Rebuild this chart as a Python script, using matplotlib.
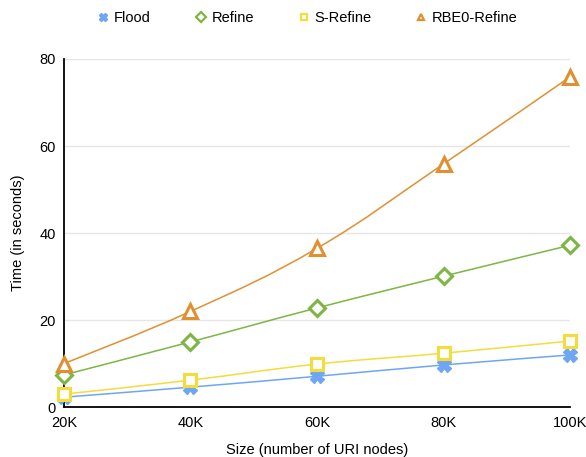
import numpy as np
import matplotlib
matplotlib.use('Agg')
from matplotlib import pyplot as plt
from matplotlib.path import Path
from matplotlib.patches import PathPatch
from matplotlib.lines import Line2D

plt.rcParams['font.family'] = ['Liberation Sans', 'DejaVu Sans']

sizes = [20, 40, 60, 80, 100]
size_labels = ['20K', '40K', '60K', '80K', '100K']
flood = [2.3, 4.6, 7.1, 9.7, 12.0]
refine = [7.4, 15.0, 22.8, 30.1, 37.2]
s_refine = [3.0, 6.2, 9.9, 12.4, 15.2]
rbe0 = [10.0, 22.0, 36.5, 55.9, 75.9]

series = [
    ('Flood', flood, '#6fa6f3', 'X', 10),
    ('Refine', refine, '#7db642', 'D', 8),
    ('S-Refine', s_refine, '#f4dc3a', 's', 9),
    ('RBE0-Refine', rbe0, '#e09030', '^', 10),
]


def smooth_path(x, y, t=0.2):
    # cubic bezier through the points (like google charts curveType)
    x = np.asarray(x, float)
    y = np.asarray(y, float)
    verts = [(x[0], y[0])]
    codes = [Path.MOVETO]
    n = len(x)
    for i in range(n - 1):
        x0, y0 = (x[i - 1], y[i - 1]) if i > 0 else (x[i], y[i])
        x3, y3 = (x[i + 2], y[i + 2]) if i + 2 < n else (x[i + 1], y[i + 1])
        c1 = (x[i] + (x[i + 1] - x0) * t, y[i] + (y[i + 1] - y0) * t)
        c2 = (x[i + 1] - (x3 - x[i]) * t, y[i + 1] - (y3 - y[i]) * t)
        verts += [c1, c2, (x[i + 1], y[i + 1])]
        codes += [Path.CURVE4] * 3
    return Path(verts, codes)


fig = plt.figure(figsize=(5.86, 4.57), dpi=100)
ax = fig.add_axes([0.109, 0.109, 0.864, 0.762])

handles = []
for name, vals, col, mk, ms in series:
    ax.add_patch(PathPatch(smooth_path(sizes, vals), fill=False, edgecolor=col, lw=1.1, zorder=2))
    if mk == 'X':
        ax.plot(sizes, vals, ls='none', marker='X', ms=ms, color=col, mec=col, zorder=3, clip_on=False)
        h = Line2D([], [], ls='none', marker='X', ms=5.5, color=col)
    else:
        ax.plot(sizes, vals, ls='none', marker=mk, ms=ms, mfc='white', mec=col, mew=2.2, zorder=3, clip_on=False)
        h = Line2D([], [], ls='none', marker=mk, ms=5, mfc='white', mec=col, mew=1.6)
    handles.append(h)

ax.set_xlim(20, 100)
ax.set_ylim(0, 80)
ax.set_xticks(sizes)
ax.set_xticklabels(size_labels)
ax.set_yticks([0, 20, 40, 60, 80])
ax.tick_params(length=0, labelsize=10.5, pad=6)
ax.grid(axis='y', color='#e6e6e6', lw=1)
ax.set_axisbelow(True)
for s in ['top', 'right']:
    ax.spines[s].set_visible(False)
for s in ['left', 'bottom']:
    ax.spines[s].set_color('black')
    ax.spines[s].set_linewidth(1.3)
ax.set_xlabel('Size (number of URI nodes)', fontsize=10.5, labelpad=10)
ax.set_ylabel('Time (in seconds)', fontsize=10.5, labelpad=10)

fig.legend(handles, [s[0] for s in series], loc='upper center', bbox_to_anchor=(0.525, 1.005),
           ncol=4, frameon=False, fontsize=10.5, handlelength=0.8, handletextpad=0.35,
           columnspacing=3.0)

fig.savefig('out.png', dpi=100)
